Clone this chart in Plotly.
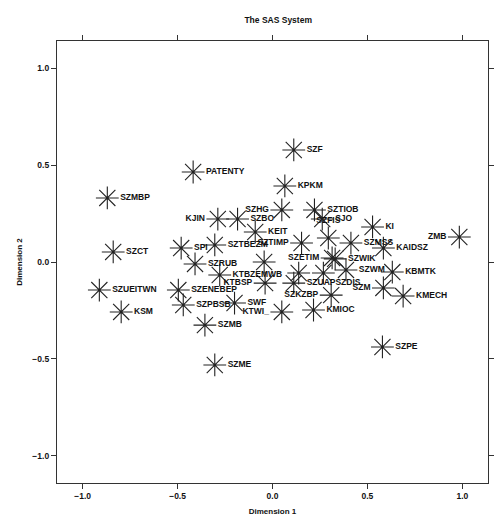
import plotly.graph_objects as go

# Labels of the plotted objects
labels = [
    "SZF", "PATENTY", "KPKM", "SZMBP", "SZHG", "SZTIOB", "SJO", "KI", "ZMB",
    "KJIN", "SZBO", "KEIT", "SZFIS", "SZTIMP", "SZMSS", "KAIDSZ", "SZCT",
    "SPI", "SZTBEZM", "SZETIM", "SZWIK", "", "SZRUB", "KTBZEMWB", "", "",
    "SZWM", "KBMTK", "KTBSP", "SZUAPSZDIS", "SZENEBEP", "SZUEITWN", "SZKZBP",
    "SZM", "KMECH", "SZPBSB", "SWF", "KTWI_", "KMIOC", "KSM", "SZMB", "SZME",
    "SZPE",
]

# Dimension 1 coordinates
dim1 = [
    0.112, -0.418, 0.065, -0.870, 0.049, 0.221, 0.262, 0.527, 0.984,
    -0.288, -0.184, -0.091, 0.294, 0.153, 0.413, 0.584, -0.839,
    -0.481, -0.304, 0.314, 0.330, -0.044, -0.408, -0.278, 0.138, 0.268,
    0.387, 0.631, -0.039, 0.112, -0.496, -0.912, 0.309,
    0.584, 0.688, -0.470, -0.200, 0.049, 0.216, -0.797, -0.356, -0.304,
    0.579,
]

# Dimension 2 coordinates
dim2 = [
    0.579, 0.465, 0.393, 0.331, 0.269, 0.269, 0.222, 0.181, 0.129,
    0.222, 0.222, 0.155, 0.124, 0.098, 0.098, 0.072, 0.052,
    0.072, 0.088, 0.021, 0.016, 0.000, -0.010, -0.067, -0.057, -0.057,
    -0.041, -0.052, -0.109, -0.109, -0.145, -0.145, -0.171,
    -0.134, -0.176, -0.222, -0.212, -0.258, -0.248, -0.258, -0.326, -0.532,
    -0.439,
]

# Label placement relative to each point
label_pos = [
    "middle right", "middle right", "middle right", "middle right", "middle left",
    "middle right", "middle right", "middle right", "middle left",
    "middle left", "middle right", "middle right", "top center", "middle left",
    "middle right", "middle right", "middle right",
    "middle right", "middle right", "middle left", "middle right", "middle right",
    "middle right", "middle right", "middle right", "middle right",
    "middle right", "middle right", "middle left", "middle right", "middle right",
    "middle right", "middle left",
    "middle left", "middle right", "middle right", "middle right", "middle left",
    "middle right", "middle right", "middle right", "middle right",
    "middle right",
]

axis_ticks = [-1.0, -0.5, 0.0, 0.5, 1.0]

FONT = "Liberation Sans, Arial, sans-serif"

fig = go.Figure()
fig.add_trace(go.Scatter(
    x=dim1, y=dim2, mode="markers+text", text=labels,
    textposition=label_pos,
    textfont=dict(family=FONT, size=8.5, color="#111111", weight="bold"),
    marker=dict(symbol="asterisk-open", size=19, color="#222222",
                line=dict(width=1.1, color="#222222")),
    cliponaxis=False, showlegend=False,
))

axis_common = dict(
    tickvals=axis_ticks, tickformat=".1f", showgrid=False, zeroline=False,
    showline=True, linecolor="#333333", linewidth=1.3, mirror="ticks",
    ticks="outside", ticklen=5, tickwidth=1.2, tickcolor="#333333",
    tickfont=dict(family=FONT, size=8.5, color="#111111", weight="bold"),
)

fig.update_layout(
    width=495, height=519,
    margin=dict(l=57, r=1, t=41, b=36),
    paper_bgcolor="white", plot_bgcolor="white",
    title=dict(text="The SAS System", x=0.562, xanchor="center", y=0.962,
               yanchor="middle",
               font=dict(family=FONT, size=8.5, color="#111111", weight="bold")),
    xaxis=dict(range=[-1.135, 1.135],
               title=dict(text="Dimension 1", standoff=8,
                          font=dict(family=FONT, size=8, color="#111111", weight="bold")),
               **axis_common),
    yaxis=dict(range=[-1.142, 1.142],
               title=dict(text="Dimension 2", standoff=8,
                          font=dict(family=FONT, size=8, color="#111111", weight="bold")),
               **axis_common),
)

fig.write_html("out.html", config={"displayModeBar": False},
               post_script="document.body.style.margin='0';")
